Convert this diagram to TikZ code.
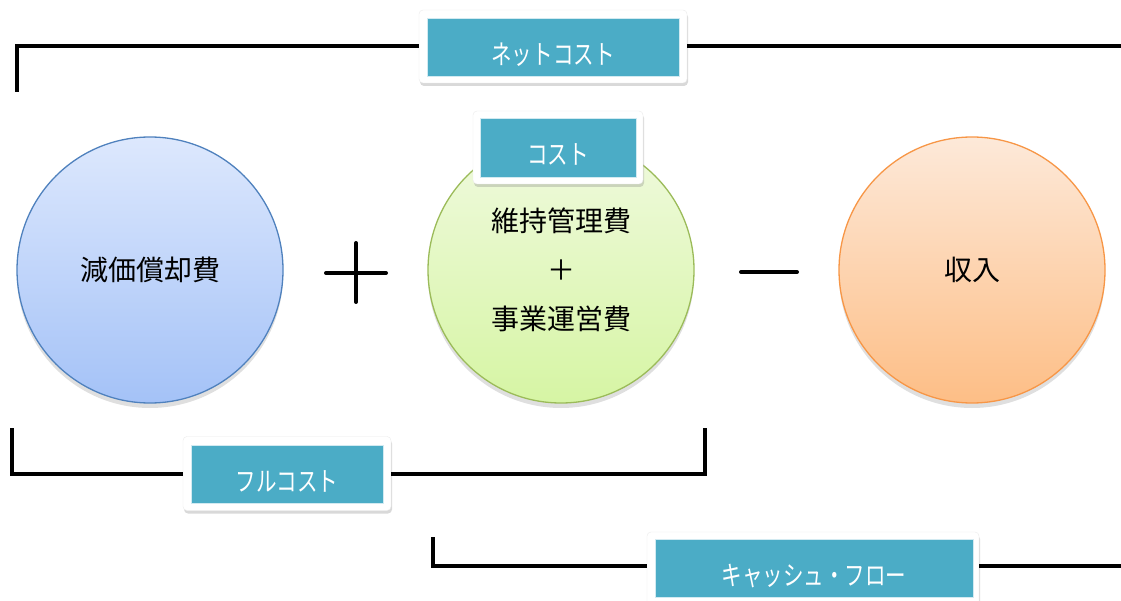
\documentclass[tikz,border=0pt]{standalone}
\usepackage{fontspec}
\setmainfont{Noto Sans CJK JP}
\newfontfamily\tagfont[FakeStretch=0.76]{Noto Sans CJK JP}
\usetikzlibrary{shadows,calc}
\definecolor{tealbox}{HTML}{4BACC6}
\definecolor{blueedge}{HTML}{4F81BD}
\definecolor{bluetop}{HTML}{DDE8FD}
\definecolor{bluebot}{HTML}{A4C2F7}
\definecolor{greenedge}{HTML}{9BBB59}
\definecolor{greentop}{HTML}{F0FADF}
\definecolor{greenbot}{HTML}{D6F5A4}
\definecolor{orangeedge}{HTML}{F79646}
\definecolor{orangetop}{HTML}{FDE9D9}
\definecolor{orangebot}{HTML}{FDBE86}
\begin{document}
\begin{tikzpicture}[x=1pt,y=-1pt,
  bracket/.style={line width=4pt, line join=miter, line cap=butt, black},
  tagouter/.style={rectangle, fill=white, rounded corners=4pt, draw=black!8, line width=0.4pt,
    drop shadow={opacity=0.3, shadow xshift=1pt, shadow yshift=-3pt}, inner sep=0pt},
  taginner/.style={rectangle, fill=tealbox, draw=white!75!tealbox, line width=0.5pt, inner sep=0pt,
    text=white, font=\tagfont\fontsize{27}{27}\selectfont, text height=34.5pt, text depth=0pt},
  ball/.style={circle, minimum size=266pt, inner sep=0pt, line width=1.3pt,
    font=\fontsize{28}{49}\selectfont, align=center,
    drop shadow={opacity=0.25, shadow xshift=0pt, shadow yshift=-5pt}},
  sign/.style={line width=4pt, line cap=round, black}
]
\useasboundingbox (0,0) rectangle (1121,601);
\clip (0,0) rectangle (1121,601);

% circles
\node[ball, draw=blueedge, top color=bluetop, bottom color=bluebot] (dep) at (150,270) {減価償却費};
\node[ball, draw=greenedge, top color=greentop, bottom color=greenbot] (om) at (561,270) {維持管理費\\＋\\事業運営費};
\node[ball, draw=orangeedge, top color=orangetop, bottom color=orangebot] (inc) at (972,270) {収入};

% operators
\draw[sign] (326,273) -- (386,273);
\draw[sign] (356,243) -- (356,302);
\draw[sign] (741,272) -- (797,272);

% label boxes
\node[tagouter, minimum width=268pt, minimum height=73pt] (ncbox) at (553,46.5) {};
\node[taginner, minimum width=252pt, minimum height=58pt] (nc) at (553,47) {ネットコスト};

\node[tagouter, minimum width=170pt, minimum height=73pt] (cbox) at (558,147.5) {};
\node[taginner, minimum width=156pt, minimum height=59pt] (c) at (558,147.5) {コスト};

\node[tagouter, minimum width=208pt, minimum height=74pt] (fcbox) at (287,473.5) {};
\node[taginner, minimum width=192pt, minimum height=58pt] (fc) at (287,474) {フルコスト};

\node[tagouter, minimum width=332pt, minimum height=74pt] (cfbox) at (813,569) {};
\node[taginner, minimum width=318pt, minimum height=58pt] (cf) at (814,568) {キャッシュ・フロー};

% brackets
\coordinate (ncL) at (17,92);
\coordinate (ncR) at (1121,46.5);
\draw[bracket] (ncL) |- (ncbox.west);
\draw[bracket] (ncbox.east) -- (ncR);

\coordinate (fcL) at (12,428);
\coordinate (fcR) at (705,428);
\draw[bracket] (fcL) |- (fcbox.west);
\draw[bracket] (fcbox.east) -| (fcR);

\coordinate (cfL) at (433,537);
\coordinate (cfR) at (1121,566);
\draw[bracket] (cfL) |- (cfbox.west |- cfR);
\draw[bracket] (cfbox.east |- cfR) -- (cfR);
\end{tikzpicture}
\end{document}
